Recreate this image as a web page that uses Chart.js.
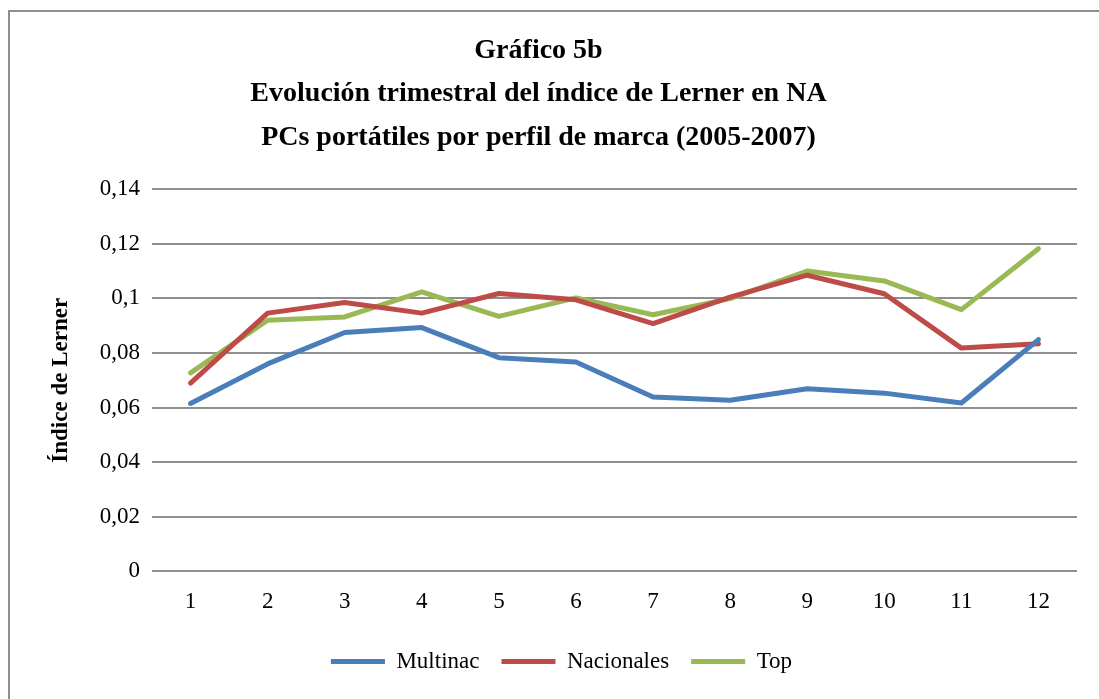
<!DOCTYPE html>
<html>
<head>
<meta charset="utf-8">
<script src="https://cdn.jsdelivr.net/npm/chart.js@4/dist/chart.umd.min.js"></script>
<style>
  html, body { margin: 0; padding: 0; background: #fff; overflow: hidden; }
  #frame { position: absolute; left: 8px; top: 10px; width: 1200px; height: 800px;
           border-left: 2px solid #8e8e8e; border-top: 2px solid #8e8e8e; }
  #wrap { position: absolute; left: 0; top: 0; width: 1099px; height: 699px; }
</style>
</head>
<body>
<div id="frame"></div>
<div id="wrap"><canvas id="chart"></canvas></div>
<script>
// trimestres 2005-2007
var quarters = ["1", "2", "3", "4", "5", "6", "7", "8", "9", "10", "11", "12"];

var multinac   = [0.0615, 0.0760, 0.0875, 0.0893, 0.0783, 0.0767, 0.0639, 0.0627, 0.0669, 0.0653, 0.0617, 0.0849];
var nacionales = [0.0690, 0.0946, 0.0985, 0.0946, 0.1018, 0.0995, 0.0908, 0.1005, 0.1085, 0.1017, 0.0818, 0.0834];
var top3       = [0.0727, 0.0920, 0.0932, 0.1024, 0.0934, 0.1002, 0.0940, 0.0999, 0.1100, 0.1064, 0.0959, 0.1182];

var yTickLabels = ["0", "0,02", "0,04", "0,06", "0,08", "0,1", "0,12", "0,14"];

var serif = "'Liberation Serif', 'Times New Roman', serif";

function serie(label, data, color) {
    return {
        label: label,
        data: data,
        borderColor: color,
        backgroundColor: color,
        borderWidth: 5,
        borderCapStyle: "round",
        borderJoinStyle: "round",
        pointRadius: 0,
        pointHoverRadius: 0,
        tension: 0,
        fill: false
    };
}

// the legend sits a bit right of the canvas centre in the original
var legendShift = {
    id: "legendShift",
    afterLayout: function(chart) {
        chart.legend.left += 23;
        chart.legend.right += 23;
        chart.legend.top -= 5;
        chart.legend.bottom -= 5;
    }
};

var ctx = document.getElementById("chart");

var myChart = new Chart(ctx, {
    type: "line",
    data: {
        labels: quarters,
        datasets: [
            serie("Multinac", multinac, "#4A7EBB"),
            serie("Nacionales", nacionales, "#BE4B48"),
            serie("Top", top3, "#98B954")
        ]
    },
    plugins: [legendShift],
    options: {
        responsive: true,
        maintainAspectRatio: false,
        animation: false,
        layout: { padding: { left: 0, right: 22, top: 0, bottom: 11 } },
        plugins: {
            title: {
                display: true,
                text: ["Gráfico 5b",
                       "Evolución trimestral del índice de Lerner en NA",
                       "PCs portátiles por perfil de marca (2005-2007)"],
                color: "#000",
                font: { family: serif, size: 28, weight: "bold", lineHeight: 1.55 },
                padding: { top: 29, bottom: 30 }
            },
            legend: {
                position: "bottom",
                labels: {
                    color: "#000",
                    font: { family: serif, size: 23 },
                    usePointStyle: true,
                    pointStyle: "line",
                    pointStyleWidth: 54,
                    padding: 22
                }
            },
            tooltip: { enabled: false }
        },
        scales: {
            x: {
                offset: true,
                grid: { display: false, drawTicks: false },
                border: { display: false },
                ticks: { color: "#000", font: { family: serif, size: 23 }, padding: 17, maxRotation: 0 }
            },
            y: {
                min: 0,
                max: 0.14,
                afterFit: function(scale) { scale.width = 152; },
                grid: { color: "#8e8e8e", lineWidth: 2, drawTicks: false },
                border: { display: false },
                ticks: {
                    stepSize: 0.02,
                    color: "#000",
                    font: { family: serif, size: 23 },
                    padding: 12,
                    callback: function(value, index) { return yTickLabels[index]; }
                },
                title: {
                    display: true,
                    text: "Índice de Lerner",
                    color: "#000",
                    font: { family: serif, size: 23, weight: "bold" },
                    padding: { top: 47, bottom: 0 }
                }
            }
        }
    }
});
</script>
</body>
</html>
